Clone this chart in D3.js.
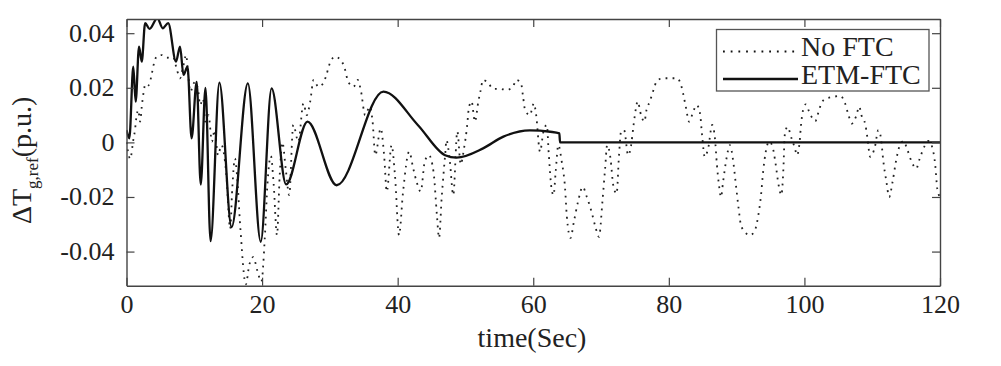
<!DOCTYPE html>
<html>
<head>
<meta charset="utf-8">
<script src="https://cdn.jsdelivr.net/npm/d3@7"></script>
<style>
body { margin: 0; background: #fff; }
svg text { font-family: "Liberation Serif", "Times New Roman", serif; fill: #222; }
</style>
</head>
<body>
<div id="chart"></div>
<script>
var width = 1001;
var height = 366;

// No FTC (dotted), time in sec
var noFtcTime = [0, 0.55, 1.0, 1.25, 1.5, 1.75, 2.0, 2.25, 2.5, 2.75, 3.0, 3.4, 3.7, 4.0, 4.45, 5.2, 5.9, 6.9, 7.4, 7.9, 8.3, 8.8, 9.1, 9.4, 10.1, 10.6, 10.85, 11.3, 11.6, 12.1, 12.6, 13.0, 13.5, 14.0, 14.7, 15.3, 15.6, 16.0, 16.3, 16.8, 17.6, 18.1, 18.7, 19.3, 19.9, 20.4, 20.8, 21.3, 21.7, 22.2, 22.6, 23.0, 23.5, 24.0, 24.6, 25.35, 26.1, 26.6, 27.1, 27.6, 28.3, 29.0, 29.4, 30.0, 30.75, 31.6, 32.2, 32.7, 33.5, 34.1, 34.6, 35.2, 35.9, 36.3, 36.7, 37.5, 38.0, 38.4, 39.1, 39.6, 40.2, 40.8, 41.7, 42.3, 42.8, 43.4, 44.0, 44.6, 45.3, 45.8, 46.1, 46.5, 47.0, 47.2, 47.7, 48.2, 48.8, 49.3, 49.8, 50.2, 50.5, 50.9, 51.4, 51.9, 52.2, 52.6, 53.4, 54.1, 55.1, 56.1, 57.0, 57.5, 58.2, 58.5, 58.8, 59.5, 60.1, 60.4, 61.0, 61.5, 62.0, 62.3, 62.7, 63.0, 63.3, 63.7, 64.2, 64.7, 64.95, 65.5, 66.0, 66.6, 67.3, 67.9, 68.6, 69.1, 69.7, 70.2, 70.6, 70.9, 71.4, 71.8, 72.3, 72.65, 72.95, 73.4, 74.0, 74.4, 74.8, 75.1, 75.4, 75.9, 76.4, 76.7, 77.2, 77.5, 77.9, 78.2, 79.2, 80.2, 81.2, 81.8, 82.1, 82.5, 83.0, 83.6, 84.1, 84.6, 84.9, 85.3, 85.8, 86.4, 86.8, 87.1, 87.4, 87.7, 88.0, 88.5, 89.0, 89.5, 89.9, 90.3, 90.6, 91.2, 92.0, 92.7, 93.2, 93.6, 93.9, 94.3, 94.8, 95.3, 95.7, 96.2, 96.6, 96.9, 97.1, 97.5, 98.1, 98.6, 98.9, 99.3, 99.5, 99.8, 100.2, 100.8, 101.6, 102.1, 102.5, 103.0, 104.3, 105.3, 106.0, 106.5, 107.0, 107.6, 108.1, 108.4, 109.0, 109.3, 109.7, 110.4, 110.9, 111.3, 111.6, 112.1, 112.5, 113.0, 113.5, 114.0, 114.6, 115.2, 115.8, 116.5, 117.0, 117.8, 118.3, 118.9, 119.3, 119.6, 120.0];
var noFtcVal = [0.000, -0.006, 0.0008, 0.0045, 0.010, 0.0118, 0.0076, 0.0131, 0.018, 0.021, 0.0204, 0.0216, 0.0247, 0.0284, 0.0314, 0.032, 0.031, 0.0311, 0.027, 0.0235, 0.027, 0.032, 0.0247, 0.0186, 0.0222, 0.0186, 0.0137, 0.016, 0.0076, 0.010, 0.0003, 0.0045, -0.0047, -0.0010, -0.011, -0.0316, -0.017, -0.0059, -0.012, -0.0316, -0.052, -0.045, -0.042, -0.047, -0.051, -0.035, -0.015, -0.005, -0.015, -0.034, -0.012, 0.000, -0.010, -0.0193, 0.0064, 0.0003, 0.0143, 0.010, 0.015, 0.0229, 0.0204, 0.0216, 0.024, 0.029, 0.0314, 0.0302, 0.027, 0.0222, 0.0204, 0.0229, 0.0186, 0.010, 0.0131, 0.0076, -0.0047, 0.0051, -0.0047, -0.018, -0.001, -0.012, -0.034, -0.018, -0.0034, -0.0096, -0.0145, -0.018, -0.007, -0.0047, -0.011, -0.027, -0.035, -0.020, -0.0047, 0.0008, -0.007, -0.0193, 0.004, -0.008, -0.002, 0.005, 0.0125, 0.015, 0.0076, 0.015, 0.0186, 0.0229, 0.0216, 0.0196, 0.0196, 0.0192, 0.0204, 0.0229, 0.0216, 0.0167, 0.0118, 0.010, 0.0143, 0.0106, -0.0034, 0.0039, 0.0064, -0.0047, -0.017, -0.0193, -0.011, -0.001, -0.007, -0.017, -0.027, -0.035, -0.029, -0.0218, -0.0163, -0.020, -0.0254, -0.0303, -0.0346, -0.0218, -0.0096, -0.001, -0.006, -0.0157, -0.0188, -0.0047, 0.0039, 0.0045, -0.0047, -0.0016, 0.0064, 0.0118, 0.015, 0.010, 0.0076, 0.0118, 0.015, 0.0174, 0.0204, 0.0225, 0.0235, 0.0235, 0.0235, 0.021, 0.018, 0.0131, 0.0076, 0.0113, 0.0137, 0.0106, 0.0027, -0.0053, -0.0022, 0.0064, 0.0015, -0.0084, -0.0157, -0.020, -0.0145, -0.006, -0.001, -0.007, -0.0157, -0.0243, -0.0298, -0.0328, -0.034, -0.0322, -0.0267, -0.0193, -0.011, -0.0034, 0.0003, -0.0016, -0.007, -0.0157, -0.0193, -0.0096, 0.0027, 0.0057, 0.0015, -0.0022, -0.0047, 0.0003, 0.0064, 0.0118, 0.0139, 0.0106, 0.0078, 0.0113, 0.0143, 0.0158, 0.0167, 0.017, 0.0143, 0.010, 0.0069, 0.0094, 0.0131, 0.010, 0.0064, 0.0015, -0.0053, -0.0016, 0.0045, 0.0015, -0.006, -0.0145, -0.020, -0.0145, -0.007, -0.0016, 0.0005, -0.0028, -0.007, -0.0096, -0.006, -0.001, 0.0005, -0.0022, -0.0084, -0.017, -0.020];

// ETM-FTC (solid)
var etmTime = [0, 0.42, 1.0, 1.35, 1.85, 2.25, 2.75, 3.4, 4.55, 5.35, 6.15, 7.3, 7.9, 8.4, 9.0, 9.6, 10.35, 10.95, 11.65, 12.4, 13.7, 15.5, 17.9, 19.8, 21.4, 23.55, 26.7, 31.0, 37.9, 43.0, 47.0, 48.7, 52.6, 55.6, 59.5, 62.5, 63.85, 63.95, 120];
var etmVal = [0.0045, 0.0015, 0.0277, 0.0149, 0.0351, 0.0296, 0.0437, 0.0416, 0.0455, 0.0418, 0.0437, 0.0296, 0.0351, 0.0247, 0.0277, 0.0015, 0.0222, -0.0154, 0.020, -0.0362, 0.0219, -0.031, 0.0216, -0.0364, 0.0198, -0.0154, 0.0076, -0.0157, 0.0186, 0.0063, -0.0047, -0.0056, -0.0022, 0.0021, 0.0044, 0.0039, 0.0033, 0, 0];

var xTicks = [0, 20, 40, 60, 80, 100, 120];
var yTicks = [-0.04, -0.02, 0, 0.02, 0.04];
var yTickLabels = ["-0.04", "-0.02", "0", "0.02", "0.04"];
var legendNames = ["No FTC", "ETM-FTC"];

var serif = '"Liberation Serif", "Times New Roman", serif';
var plotLeft = 126.5, plotRight = 940, plotTop = 19, plotBottom = 285.7;

var xScale = d3.scaleLinear().domain([0, 120]).range([plotLeft, plotRight]);
var yScale = d3.scaleLinear().domain([-0.0525, 0.0452]).range([plotBottom, plotTop]);

var svg = d3.select("#chart")
    .append("svg")
    .attr("width", width)
    .attr("height", height)
    .style("font-family", serif);

svg.append("defs").append("clipPath")
    .attr("id", "plotclip")
    .append("rect")
    .attr("x", plotLeft)
    .attr("y", plotTop)
    .attr("width", plotRight - plotLeft)
    .attr("height", plotBottom - plotTop);

var noFtcData = noFtcTime.map(function(t, i) { return {t: t, v: noFtcVal[i]}; });
var etmData = etmTime.map(function(t, i) { return {t: t, v: etmVal[i]}; });

var line = d3.line()
    .x(function(d) { return xScale(d.t); })
    .y(function(d) { return yScale(d.v); })
    .curve(d3.curveMonotoneX);

var plotG = svg.append("g").attr("clip-path", "url(#plotclip)");

plotG.append("path")
    .datum(noFtcData)
    .attr("d", line)
    .attr("fill", "none")
    .attr("stroke", "#222")
    .attr("stroke-width", 1.8)
    .attr("stroke-dasharray", "1.8,5.2");

plotG.append("path")
    .datum(etmData)
    .attr("d", line)
    .attr("fill", "none")
    .attr("stroke", "#111")
    .attr("stroke-width", 2.3);

// axes on all four sides, ticks pointing inwards
var xAxis = d3.axisBottom(xScale).tickValues(xTicks).tickSizeInner(-8).tickSizeOuter(0).tickPadding(9);
var xAxisTop = d3.axisTop(xScale).tickValues(xTicks).tickSizeInner(-8).tickSizeOuter(0).tickFormat("");
var yAxis = d3.axisLeft(yScale).tickValues(yTicks).tickSizeInner(-8).tickSizeOuter(0).tickPadding(12)
    .tickFormat(function(d, i) { return yTickLabels[i]; });
var yAxisRight = d3.axisRight(yScale).tickValues(yTicks).tickSizeInner(-8).tickSizeOuter(0).tickFormat("");

var gx = svg.append("g").attr("transform", "translate(0," + plotBottom + ")").call(xAxis);
var gxt = svg.append("g").attr("transform", "translate(0," + plotTop + ")").call(xAxisTop);
var gy = svg.append("g").attr("transform", "translate(" + plotLeft + ",0)").call(yAxis);
var gyr = svg.append("g").attr("transform", "translate(" + plotRight + ",0)").call(yAxisRight);

[gx, gxt, gy, gyr].forEach(function(g) {
    g.attr("font-family", serif).attr("font-size", 26);
    g.select(".domain").attr("stroke", "#444").attr("stroke-width", 1.4);
    g.selectAll(".tick line").attr("stroke", "#444").attr("stroke-width", 1.2);
    g.selectAll(".tick text").attr("fill", "#222").style("font-family", serif).style("font-size", "26px");
});
gy.selectAll(".tick text").attr("dy", "0.3em");

// axis labels
svg.append("text")
    .attr("x", 532)
    .attr("y", 347)
    .attr("text-anchor", "middle")
    .style("font-size", "28px")
    .text("time(Sec)");

var yLab = svg.append("text")
    .attr("transform", "translate(31,224) rotate(-90)")
    .style("font-size", "28px");
yLab.append("tspan").text("\u0394T");
yLab.append("tspan").attr("dy", 7).style("font-size", "17px").text("g,ref");
yLab.append("tspan").attr("dy", -7).text("(p.u.)");

// legend
var legendG = svg.append("g");
legendG.append("rect")
    .attr("x", 716.5)
    .attr("y", 29.5)
    .attr("width", 212.5)
    .attr("height", 61.5)
    .attr("fill", "#fff")
    .attr("stroke", "#555")
    .attr("stroke-width", 1.3);

legendNames.forEach(function(name, i) {
    var ly = i === 0 ? 51.5 : 79;
    legendG.append("line")
        .attr("x1", 723)
        .attr("x2", i === 0 ? 795 : 798)
        .attr("y1", ly)
        .attr("y2", ly)
        .attr("stroke", "#111")
        .attr("stroke-width", i === 0 ? 1.8 : 2.3)
        .attr("stroke-dasharray", i === 0 ? "1.8,5.9" : null);
    legendG.append("text")
        .attr("x", 801)
        .attr("y", i === 0 ? 55.5 : 83.5)
        .style("font-size", "28px")
        .text(name);
});
</script>
</body>
</html>
